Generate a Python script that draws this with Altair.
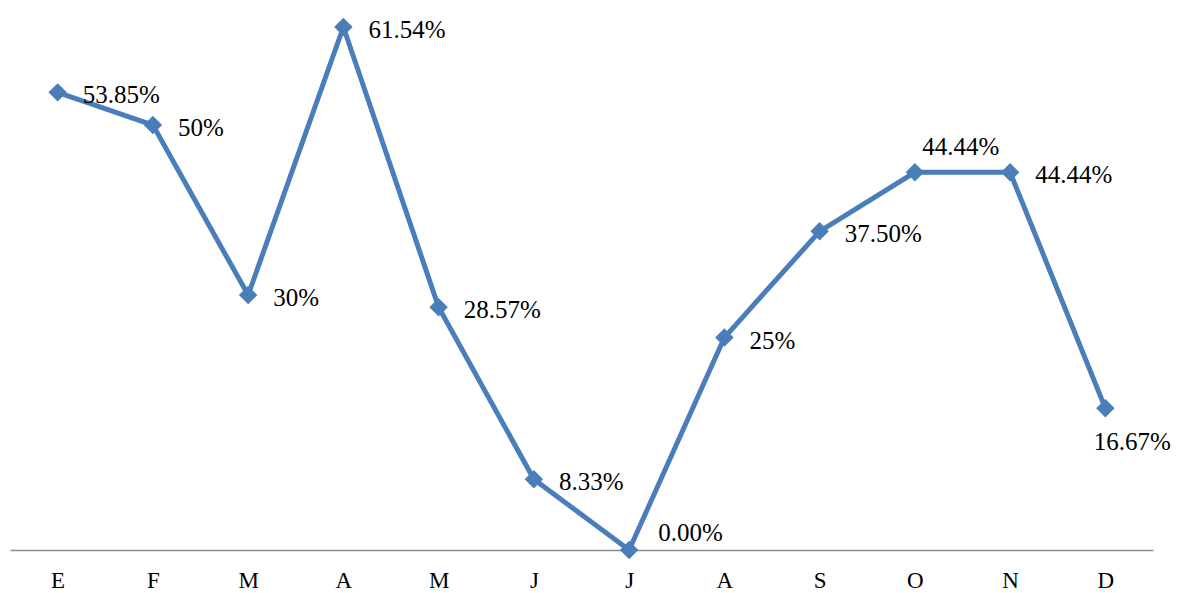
import altair as alt
import pandas as pd

# Monthly percentages, January to December (Spanish month initials)
meses = ["E", "F", "M", "A", "M", "J", "J", "A", "S", "O", "N", "D"]
valores = [53.85, 50, 30, 61.54, 28.57, 8.33, 0.00, 25, 37.50, 44.44, 44.44, 16.67]
etiquetas = ["53.85%", "50%", "30%", "61.54%", "28.57%", "8.33%", "0.00%",
             "25%", "37.50%", "44.44%", "44.44%", "16.67%"]

df = pd.DataFrame({
    "idx": list(range(len(meses))),
    "mes": meses,
    "valor": valores,
    "etiqueta": etiquetas,
})

AZUL = "#4A7EBB"
FUENTE = "Liberation Serif"

label_expr = "[" + ",".join(f"'{m}'" for m in meses) + "][datum.value]"

x = alt.X(
    "idx:O",
    scale=alt.Scale(type="point", padding=0.5),
    axis=alt.Axis(
        title=None,
        labelAngle=0,
        labelExpr=label_expr,
        labelFont=FUENTE,
        labelFontSize=23,
        labelColor="black",
        labelPadding=19,
        ticks=False,
        domainColor="#8C8C8C",
        domainWidth=1.5,
        grid=False,
    ),
)
y = alt.Y("valor:Q", scale=alt.Scale(domain=[0, 64.72], nice=False, zero=True), axis=None)

base = alt.Chart(df).encode(x=x, y=y)

linea = base.mark_line(color=AZUL, strokeWidth=5)
puntos = base.mark_point(shape="diamond", filled=True, opacity=1, color=AZUL, size=340)

def texto(indices, **kw):
    return base.transform_filter(
        alt.FieldOneOfPredicate(field="idx", oneOf=indices)
    ).mark_text(font=FUENTE, fontSize=25, color="black", **kw).encode(text="etiqueta:N")

derecha = texto([0, 1, 2, 3, 4, 5, 7, 8, 10], align="left", dx=25, dy=3)
cero = texto([6], align="left", dx=29, dy=-17)
arriba = texto([9], align="center", dx=46, dy=-25)
abajo = texto([11], align="center", dx=27, dy=34)

chart = alt.layer(linea, puntos, derecha, cero, arriba, abajo).properties(
    width=1143,
    height=550,
    autosize=alt.AutoSizeParams(type="none"),
    padding={"left": 10, "top": 0, "right": 24, "bottom": 43},
).configure_view(stroke=None)

chart.save("out.html", embed_options={"renderer": "svg", "actions": False})
